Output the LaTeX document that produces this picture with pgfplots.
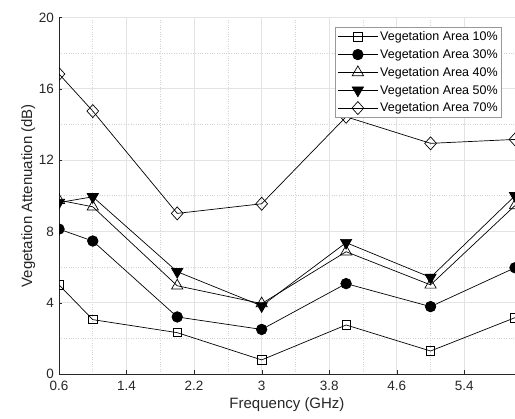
\documentclass[border=0pt]{standalone}
\usepackage{fontspec}
\setmainfont{Liberation Sans}
\usepackage{pgfplots}
\pgfplotsset{compat=1.18}
\definecolor{axgray}{RGB}{38,38,38}
\begin{document}
\begin{tikzpicture}
  \begin{axis}[
      scale only axis,
      width=456bp, height=356.5bp,
      xmin=0.6, xmax=6, ymin=0, ymax=20,
      xtick={0.6,1.4,2.2,3,3.8,4.6,5.4},
      ytick={0,4,8,12,16,20},
      minor x tick num=1, minor y tick num=1,
      grid=both,
      major grid style={gray!22, line width=0.6pt},
      minor grid style={gray!35, dotted, line width=0.6pt},
      axis x line*=bottom, axis y line*=left,
      axis line style={axgray, -, line width=0.7pt},
      tick align=inside, major tick length=3.5bp, minor tick length=0pt,
      tick style={axgray},
      tick label style={font=\fontsize{13.5bp}{15bp}\selectfont, text=axgray},
      xticklabel style={yshift=-4bp},
      yticklabel style={xshift=-1.5bp},
      /pgf/number format/assume math mode=true,
      xlabel={Frequency (GHz)}, ylabel={Vegetation Attenuation (dB)},
      label style={font=\fontsize{15bp}{17bp}\selectfont, text=axgray},
      ylabel style={yshift=-3bp},
      clip marker paths=true,
      legend cell align=left,
      legend style={at={(rel axis cs:0.9715,0.973)}, anchor=north east,
        draw=gray!80, line width=0.7pt, font=\fontsize{12.5bp}{14bp}\selectfont,
        text=black, inner xsep=2bp, inner ysep=2bp, row sep=3.3bp},
      legend image code/.code={%
        \draw[mark repeat=2, mark phase=2] plot coordinates {(0bp,0bp) (20bp,0bp) (40bp,0bp)};},
      every axis plot/.append style={black, line width=0.7pt},
    ]
    \addplot[mark=square, mark size=4.2bp, mark options={fill=white, solid}] coordinates {
      (0.6,5.0) (1,3.05) (2,2.32) (3,0.79) (4,2.75) (5,1.29) (6,3.16)};
    \addlegendentry{Vegetation Area 10\%}
    \addplot[mark=*, mark size=5.3bp, mark options={fill=black}] coordinates {
      (0.6,8.13) (1,7.46) (2,3.2) (3,2.5) (4,5.07) (5,3.78) (6,5.96)};
    \addlegendentry{Vegetation Area 30\%}
    \addplot[mark=triangle, mark size=6.5bp, mark options={fill=white}] coordinates {
      (0.6,9.75) (1,9.38) (2,4.95) (3,3.95) (4,6.86) (5,5.0) (6,9.45)};
    \addlegendentry{Vegetation Area 40\%}
    \addplot[mark=triangle*, mark size=6.5bp, mark options={fill=black, rotate=180}] coordinates {
      (0.6,9.62) (1,9.94) (2,5.74) (3,3.82) (4,7.37) (5,5.42) (6,10.0)};
    \addlegendentry{Vegetation Area 50\%}
    \addplot[mark=diamond, mark size=6.5bp, mark options={fill=white, xscale=1.2}] coordinates {
      (0.6,16.83) (1,14.75) (2,9.01) (3,9.55) (4,14.43) (5,12.94) (6,13.16)};
    \addlegendentry{Vegetation Area 70\%}
  \end{axis}
  \pgfresetboundingbox
  \path[use as bounding box] ([xshift=-59bp,yshift=-45bp]current axis.south west)
    rectangle ([yshift=17.5bp]current axis.north east);
\end{tikzpicture}
\end{document}
